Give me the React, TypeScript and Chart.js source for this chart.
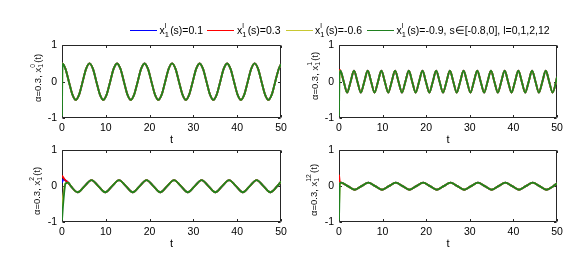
import React, { useEffect, useRef } from 'react';
import { Chart, registerables } from 'chart.js';

Chart.register(...registerables);

const FONT = "'Liberation Sans', Arial, Helvetica, sans-serif";

// ---------- data ----------
const seriesColors = ['#0000ff', '#ff0000', '#c8c832', '#1f801f'];
const legendValues = ['0.1', '0.3', '-0.6', '-0.9, s\u2208[-0.8,0], l=0,1,2,12'];
const panelSup = ['0', '1', '2', '12'];
const xTicks = [0, 10, 20, 30, 40, 50];
const yTicks = [-1, 0, 1];

// Panel A: x_1^0(t)
const tHeadA = [0, 0.1];
const blueHeadA = [0.1, 0.5];
const redHeadA = [0.3, 0.5];
const yellowHeadA = [-0.6, 0.5];
const greenHeadA = [-0.95, 0.5];
const tTailA = [
  0.79, 1.57, 2.36, 3.14, 3.93, 4.71, 5.5, 6.28,
  7.07, 7.85, 8.64, 9.42, 10.21, 11.0, 11.78, 12.57,
  13.35, 14.14, 14.92, 15.71, 16.49, 17.28, 18.06, 18.85,
  19.63, 20.42, 21.21, 21.99, 22.78, 23.56, 24.35, 25.13,
  25.92, 26.7, 27.49, 28.27, 29.06, 29.85, 30.63, 31.42,
  32.2, 32.99, 33.77, 34.56, 35.34, 36.13, 36.91, 37.7,
  38.48, 39.27, 40.06, 40.84, 41.63, 42.41, 43.2, 43.98,
  44.77, 45.55, 46.34, 47.12, 47.91, 48.69, 49.48, 50,
];
const yTailA = [
  0.35, 0, -0.35, -0.5, -0.35, 0, 0.35, 0.5,
  0.35, 0, -0.35, -0.5, -0.35, 0, 0.35, 0.5,
  0.35, 0, -0.35, -0.5, -0.35, 0, 0.35, 0.5,
  0.35, 0, -0.35, -0.5, -0.35, 0, 0.35, 0.5,
  0.35, 0, -0.35, -0.5, -0.35, 0, 0.35, 0.5,
  0.35, 0, -0.35, -0.5, -0.35, 0, 0.35, 0.5,
  0.35, 0, -0.35, -0.5, -0.35, 0, 0.35, 0.5,
  0.35, 0, -0.35, -0.5, -0.35, 0, 0.35, 0.48,
];

// Panel B: x_1^1(t)
const tHeadB = [0, 0.1];
const blueHeadB = [0.1, 0.25];
const redHeadB = [0.3, 0.32];
const yellowHeadB = [-0.6, 0.2];
const greenHeadB = [-0.95, 0.15];
const tTailB = [
  0.3, 1.09, 1.87, 2.66, 3.44, 4.23, 5.01, 5.8,
  6.58, 7.37, 8.15, 8.94, 9.72, 10.51, 11.3, 12.08,
  12.87, 13.65, 14.44, 15.22, 16.01, 16.79, 17.58, 18.36,
  19.15, 19.93, 20.72, 21.51, 22.29, 23.08, 23.86, 24.65,
  25.43, 26.22, 27.0, 27.79, 28.57, 29.36, 30.15, 30.93,
  31.72, 32.5, 33.29, 34.07, 34.86, 35.64, 36.43, 37.21,
  38.0, 38.78, 39.57, 40.36, 41.14, 41.93, 42.71, 43.5,
  44.28, 45.07, 45.85, 46.64, 47.42, 48.21, 48.99, 49.78,
  50,
];
const yTailB = [
  0.3, 0, -0.3, 0, 0.3, 0, -0.3, 0,
  0.3, 0, -0.3, 0, 0.3, 0, -0.3, 0,
  0.3, 0, -0.3, 0, 0.3, 0, -0.3, 0,
  0.3, 0, -0.3, 0, 0.3, 0, -0.3, 0,
  0.3, 0, -0.3, 0, 0.3, 0, -0.3, 0,
  0.3, 0, -0.3, 0, 0.3, 0, -0.3, 0,
  0.3, 0, -0.3, 0, 0.3, 0, -0.3, 0,
  0.3, 0, -0.3, 0, 0.3, 0, -0.3, 0,
  0.13,
];

// Panel C: x_1^2(t)
const tHeadC = [0, 0.3, 0.8, 1.4];
const blueHeadC = [0.1, 0.19, 0.16, 0.1];
const redHeadC = [0.3, 0.24, 0.16, 0.1];
const yellowHeadC = [-0.6, -0.25, 0.08, 0.1];
const greenHeadC = [-0.95, -0.45, 0.07, 0.1];
const tTailC = [
  2.02, 3.59, 5.16, 6.73, 8.3, 9.87, 11.45, 13.02,
  14.59, 16.16, 17.73, 19.3, 20.87, 22.44, 24.01, 25.58,
  27.15, 28.72, 30.3, 31.87, 33.44, 35.01, 36.58, 38.15,
  39.72, 41.29, 42.86, 44.43, 46.0, 47.57, 49.14, 50,
];
const yTailC = [
  0, -0.17, 0, 0.17, 0, -0.17, 0, 0.17,
  0, -0.17, 0, 0.17, 0, -0.17, 0, 0.17,
  0, -0.17, 0, 0.17, 0, -0.17, 0, 0.17,
  0, -0.17, 0, 0.17, 0, -0.17, 0, 0.13,
];

// Panel D: x_1^12(t)
const tHeadD = [0, 0.2];
const blueHeadD = [0.1, 0.1];
const redHeadD = [0.32, 0.12];
const yellowHeadD = [-0.6, 0.08];
const greenHeadD = [-0.95, 0.08];
const tTailD = [
  0.45, 2.02, 3.59, 5.16, 6.73, 8.3, 9.87, 11.45,
  13.02, 14.59, 16.16, 17.73, 19.3, 20.87, 22.44, 24.01,
  25.58, 27.15, 28.72, 30.3, 31.87, 33.44, 35.01, 36.58,
  38.15, 39.72, 41.29, 42.86, 44.43, 46.0, 47.57, 49.14,
  50,
];
const yTailD = [
  0.1, 0, -0.1, 0, 0.1, 0, -0.1, 0,
  0.1, 0, -0.1, 0, 0.1, 0, -0.1, 0,
  0.1, 0, -0.1, 0, 0.1, 0, -0.1, 0,
  0.1, 0, -0.1, 0, 0.1, 0, -0.1, 0,
  0.08,
];

// ---------- helpers ----------
const pts = (ts: number[], ys: number[]) => ts.map((t, i) => ({ x: t, y: ys[i] }));

function buildDatasets(tHead: number[], heads: number[][], tTail: number[], yTail: number[]) {
  return heads.map((h, i) => ({
    data: pts(tHead, h).concat(pts(tTail, yTail)),
    borderColor: seriesColors[i],
    backgroundColor: seriesColors[i],
    borderWidth: 1.8,
    pointRadius: 0,
    fill: false,
    order: heads.length - 1 - i,
    cubicInterpolationMode: 'monotone',
  }));
}

const framePlugin = {
  id: 'matlabFrame',
  beforeDatasetsDraw(chart: any) {
    const { ctx, chartArea: a, scales } = chart;
    const x = scales.x;
    const y = scales.y;
    const L = Math.round(a.left) + 0.5;
    const R = Math.round(a.right) - 0.5;
    const T = Math.round(a.top) + 0.5;
    const B = Math.round(a.bottom) - 0.5;
    ctx.save();
    ctx.strokeStyle = '#262626';
    ctx.lineWidth = 1;
    ctx.beginPath();
    ctx.rect(L, T, R - L, B - T);
    ctx.stroke();
    ctx.beginPath();
    x.ticks.forEach((t: any) => {
      const px = Math.round(x.getPixelForValue(t.value)) + 0.5;
      ctx.moveTo(px, B);
      ctx.lineTo(px, B - 2.5);
      ctx.moveTo(px, T);
      ctx.lineTo(px, T + 2.5);
    });
    y.ticks.forEach((t: any) => {
      const py = Math.round(y.getPixelForValue(t.value)) + 0.5;
      ctx.moveTo(L, py);
      ctx.lineTo(L + 2.5, py);
      ctx.moveTo(R, py);
      ctx.lineTo(R - 2.5, py);
    });
    ctx.stroke();
    ctx.restore();
  },
};

type PanelDef = {
  left: number;
  top: number;
  width: number;
  height: number;
  datasets: any[];
};

const Y_AXIS_W = 24;
const X_AXIS_H = 29;
const PAD_TOP = 10;
const PAD_RIGHT = 14;

function ChartPanel({ def }: { def: PanelDef }) {
  const ref = useRef<HTMLCanvasElement | null>(null);
  useEffect(() => {
    if (!ref.current) return;
    const tickFont = { family: FONT, size: 10.5 };
    const chart = new Chart(ref.current, {
      type: 'line',
      data: { datasets: def.datasets },
      options: {
        animation: false,
        responsive: false,
        maintainAspectRatio: false,
        devicePixelRatio: 1,
        layout: { padding: { top: PAD_TOP, right: PAD_RIGHT, left: 0, bottom: 0 } },
        plugins: { legend: { display: false }, tooltip: { enabled: false } },
        scales: {
          x: {
            type: 'linear',
            min: xTicks[0],
            max: xTicks[xTicks.length - 1],
            afterBuildTicks: (s: any) => { s.ticks = xTicks.map((v) => ({ value: v })); },
            ticks: { padding: 4, font: tickFont, color: '#000', maxRotation: 0 },
            grid: { display: false, drawTicks: false },
            border: { display: false },
            title: { display: true, text: 't', color: '#000', font: { family: FONT, size: 11 }, padding: { top: 0, bottom: 0 } },
            afterFit: (s: any) => { s.height = X_AXIS_H; },
          },
          y: {
            type: 'linear',
            min: yTicks[0],
            max: yTicks[yTicks.length - 1],
            afterBuildTicks: (s: any) => { s.ticks = yTicks.map((v) => ({ value: v })); },
            ticks: { padding: 5, font: tickFont, color: '#000' },
            grid: { display: false, drawTicks: false },
            border: { display: false },
            afterFit: (s: any) => { s.width = Y_AXIS_W; },
          },
        },
      } as any,
      plugins: [framePlugin],
    });
    return () => chart.destroy();
  }, [def]);
  return (
    <canvas
      ref={ref}
      width={def.width}
      height={def.height}
      style={{ position: 'absolute', left: def.left, top: def.top, width: def.width, height: def.height }}
    />
  );
}

function XSym({ sup, sub, fs }: { sup: string; sub: string; fs: number }) {
  const small = fs * 0.72;
  const w = Math.max(sup.length, sub.length) * small * 0.58 + 1;
  return (
    <>
      x
      <span style={{ display: 'inline-block', position: 'relative', width: w, height: fs }}>
        <span style={{ position: 'absolute', left: 0, top: -fs * 0.12, fontSize: small, lineHeight: 1 }}>{sup}</span>
        <span style={{ position: 'absolute', left: 0, top: fs * 0.72, fontSize: small, lineHeight: 1 }}>{sub}</span>
      </span>
    </>
  );
}

function YTitle({ cx, cy, sup }: { cx: number; cy: number; sup: string }) {
  const fs = 9.5;
  return (
    <div
      style={{
        position: 'absolute',
        left: cx,
        top: cy,
        transform: 'translate(-50%, -50%) rotate(-90deg)',
        whiteSpace: 'nowrap',
        fontFamily: FONT,
        fontSize: fs,
        lineHeight: '11px',
        color: '#111',
      }}
    >
      {'\u03b1=0.3, '}
      <XSym sup={sup} sub="1" fs={fs} />
      (t)
    </div>
  );
}

const legendLineX = [130, 207, 286, 367];
const legendTextX = [159.5, 237, 315, 396.5];

export default function App() {
  const panels: PanelDef[] = [
    { left: 38, top: 34, width: 257, height: 113, datasets: buildDatasets(tHeadA, [blueHeadA, redHeadA, yellowHeadA, greenHeadA], tTailA, yTailA) },
    { left: 315, top: 34, width: 256, height: 113, datasets: buildDatasets(tHeadB, [blueHeadB, redHeadB, yellowHeadB, greenHeadB], tTailB, yTailB) },
    { left: 38, top: 139, width: 257, height: 112, datasets: buildDatasets(tHeadC, [blueHeadC, redHeadC, yellowHeadC, greenHeadC], tTailC, yTailC) },
    { left: 315, top: 139, width: 256, height: 112, datasets: buildDatasets(tHeadD, [blueHeadD, redHeadD, yellowHeadD, greenHeadD], tTailD, yTailD) },
  ];
  const titlePos = [
    { cx: 37, cy: 77.5 },
    { cx: 313.5, cy: 76 },
    { cx: 35.5, cy: 191 },
    { cx: 313, cy: 189.5 },
  ];
  return (
    <div style={{ position: 'absolute', left: 0, top: 0, width: 587, height: 259, background: '#fff', overflow: 'hidden' }}>
      {panels.map((p, i) => (
        <ChartPanel key={i} def={p} />
      ))}
      {titlePos.map((p, i) => (
        <YTitle key={i} cx={p.cx} cy={p.cy} sup={panelSup[i]} />
      ))}
      {legendValues.map((v, i) => (
        <React.Fragment key={i}>
          <div style={{ position: 'absolute', left: legendLineX[i], top: 29.5, width: 27, height: 1, background: seriesColors[i] }} />
          <div
            style={{
              position: 'absolute',
              left: legendTextX[i],
              top: 23.3,
              whiteSpace: 'nowrap',
              fontFamily: FONT,
              fontSize: 10.5,
              lineHeight: '12px',
              color: '#000',
            }}
          >
            <XSym sup="l" sub="1" fs={10.5} />
            {'(s)=' + v}
          </div>
        </React.Fragment>
      ))}
    </div>
  );
}
